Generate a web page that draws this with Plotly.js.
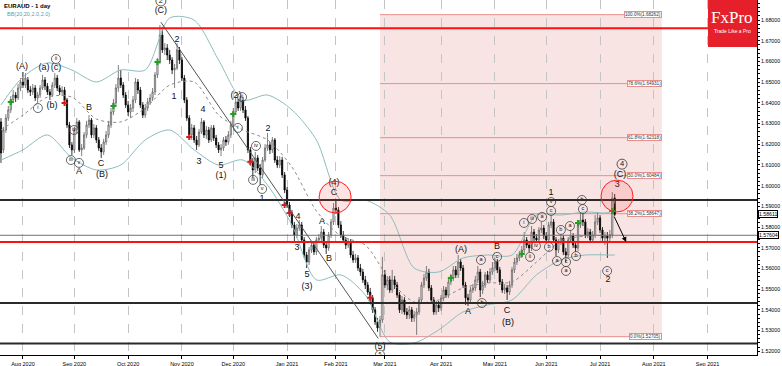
<!DOCTYPE html>
<html><head><meta charset="utf-8">
<script src="https://cdn.plot.ly/plotly-3.0.1.min.js"></script>
<style>html,body{margin:0;padding:0;background:#fff}#chart{width:782px;height:366px}</style>
</head><body><div id="chart"></div>
<script>
// ---- data (bar index 0 = 3 Aug 2020, trading days) ----
const FIRST_BAR = -9;
const OPEN=[1.6308,1.6173,1.6269,1.6327,1.6366,1.6414,1.6438,1.6424,1.6472,
1.6501,1.6486,1.6511,1.6462,1.6453,1.6472,1.6424,1.6438,1.6472,1.6511,
1.6481,1.6453,1.6438,1.6486,1.6520,1.6472,1.6453,1.6462,1.6414,1.6293,
1.6197,1.6173,1.6269,1.6308,1.6173,1.6182,1.6245,1.6293,1.6317,1.6245,
1.6279,1.6221,1.6182,1.6163,1.6211,1.6245,1.6293,1.6356,1.6399,1.6472,
1.6520,1.6486,1.6438,1.6390,1.6356,1.6375,1.6414,1.6501,1.6462,1.6390,
1.6341,1.6375,1.6404,1.6424,1.6453,1.6535,1.6597,1.6728,1.6656,1.6665,
1.6631,1.6607,1.6559,1.6568,1.6656,1.6607,1.6520,1.6414,1.6327,1.6245,
1.6279,1.6221,1.6197,1.6259,1.6308,1.6245,1.6269,1.6221,1.6279,1.6230,
1.6197,1.6173,1.6182,1.6221,1.6211,1.6245,1.6293,1.6356,1.6404,1.6375,
1.6414,1.6366,1.6327,1.6173,1.6115,1.6076,1.6134,1.6085,1.6052,1.6124,
1.6182,1.6197,1.6173,1.6221,1.6124,1.6100,1.6124,1.6052,1.5979,1.5907,
1.5868,1.5810,1.5762,1.5795,1.5810,1.5738,1.5665,1.5631,1.5690,1.5713,
1.5680,1.5738,1.5747,1.5776,1.5713,1.5699,1.5762,1.5825,1.5892,1.5883,
1.5810,1.5762,1.5738,1.5713,1.5728,1.5665,1.5641,1.5651,1.5602,1.5583,
1.5545,1.5520,1.5486,1.5458,1.5400,1.5342,1.5313,1.5351,1.5569,1.5520,
1.5545,1.5496,1.5545,1.5520,1.5472,1.5400,1.5448,1.5390,1.5376,1.5400,
1.5361,1.5376,1.5390,1.5448,1.5520,1.5554,1.5583,1.5506,1.5448,1.5390,
1.5424,1.5409,1.5458,1.5496,1.5472,1.5535,1.5554,1.5593,1.5569,1.5631,
1.5602,1.5520,1.5458,1.5448,1.5496,1.5506,1.5545,1.5583,1.5496,1.5520,
1.5569,1.5545,1.5583,1.5602,1.5631,1.5593,1.5535,1.5496,1.5506,1.5486,
1.5520,1.5593,1.5631,1.5651,1.5665,1.5690,1.5738,1.5713,1.5699,1.5776,
1.5747,1.5738,1.5786,1.5795,1.5757,1.5738,1.5810,1.5825,1.5738,1.5690,
1.5728,1.5747,1.5680,1.5665,1.5738,1.5757,1.5713,1.5699,1.5810,1.5834,
1.5825,1.5762,1.5776,1.5738,1.5762,1.5825,1.5844,1.5786,1.5747,1.5757,
1.5747,1.5762,1.5940];
const HIGH=[1.6327,1.6284,1.6346,1.6385,1.6433,1.6462,1.6453,1.6491,1.6520,
1.6549,1.6544,1.6525,1.6481,1.6491,1.6486,1.6453,1.6486,1.6535,1.6525,
1.6496,1.6467,1.6501,1.6544,1.6535,1.6486,1.6481,1.6477,1.6424,1.6308,
1.6211,1.6284,1.6327,1.6317,1.6201,1.6259,1.6313,1.6341,1.6327,1.6298,
1.6293,1.6235,1.6201,1.6226,1.6264,1.6313,1.6375,1.6419,1.6491,1.6583,
1.6559,1.6501,1.6453,1.6409,1.6395,1.6433,1.6520,1.6515,1.6477,1.6404,
1.6395,1.6424,1.6443,1.6472,1.6549,1.6617,1.6776,1.6767,1.6689,1.6684,
1.6656,1.6621,1.6588,1.6689,1.6670,1.6621,1.6535,1.6428,1.6341,1.6298,
1.6293,1.6240,1.6274,1.6327,1.6317,1.6288,1.6284,1.6293,1.6293,1.6245,
1.6211,1.6201,1.6235,1.6240,1.6264,1.6313,1.6375,1.6428,1.6419,1.6433,
1.6428,1.6385,1.6337,1.6187,1.6134,1.6163,1.6148,1.6105,1.6139,1.6201,
1.6255,1.6211,1.6235,1.6230,1.6143,1.6143,1.6139,1.6066,1.5993,1.5921,
1.5883,1.5825,1.5815,1.5834,1.5825,1.5752,1.5680,1.5704,1.5733,1.5728,
1.5752,1.5766,1.5805,1.5791,1.5728,1.5776,1.5839,1.5916,1.5931,1.5897,
1.5829,1.5781,1.5752,1.5747,1.5742,1.5685,1.5670,1.5665,1.5622,1.5598,
1.5564,1.5535,1.5506,1.5472,1.5414,1.5361,1.5371,1.5656,1.5593,1.5564,
1.5564,1.5593,1.5564,1.5535,1.5486,1.5467,1.5462,1.5409,1.5419,1.5414,
1.5395,1.5409,1.5462,1.5535,1.5573,1.5612,1.5598,1.5520,1.5462,1.5443,
1.5443,1.5472,1.5515,1.5511,1.5549,1.5573,1.5612,1.5612,1.5665,1.5646,
1.5617,1.5535,1.5477,1.5511,1.5525,1.5564,1.5612,1.5598,1.5540,1.5583,
1.5588,1.5602,1.5631,1.5651,1.5646,1.5607,1.5549,1.5525,1.5520,1.5540,
1.5607,1.5651,1.5670,1.5685,1.5709,1.5776,1.5752,1.5733,1.5805,1.5791,
1.5766,1.5800,1.5825,1.5810,1.5776,1.5825,1.5858,1.5839,1.5752,1.5742,
1.5766,1.5762,1.5699,1.5752,1.5786,1.5771,1.5733,1.5825,1.5873,1.5863,
1.5839,1.5795,1.5791,1.5781,1.5858,1.5873,1.5858,1.5800,1.5776,1.5776,
1.5786,1.5969,1.5960];
const LOW=[1.6110,1.6158,1.6255,1.6313,1.6351,1.6399,1.6404,1.6414,1.6457,
1.6472,1.6472,1.6448,1.6433,1.6438,1.6409,1.6399,1.6424,1.6462,1.6462,
1.6438,1.6414,1.6428,1.6472,1.6457,1.6438,1.6433,1.6395,1.6279,1.6182,
1.6148,1.6158,1.6250,1.6163,1.6143,1.6173,1.6230,1.6279,1.6230,1.6230,
1.6206,1.6168,1.6134,1.6148,1.6197,1.6230,1.6279,1.6341,1.6385,1.6453,
1.6472,1.6424,1.6375,1.6337,1.6327,1.6356,1.6399,1.6443,1.6375,1.6327,
1.6327,1.6361,1.6390,1.6409,1.6438,1.6520,1.6588,1.6641,1.6631,1.6607,
1.6588,1.6539,1.6472,1.6559,1.6588,1.6506,1.6399,1.6313,1.6230,1.6221,
1.6206,1.6173,1.6187,1.6250,1.6230,1.6226,1.6206,1.6211,1.6216,1.6182,
1.6158,1.6143,1.6168,1.6192,1.6197,1.6230,1.6279,1.6341,1.6361,1.6361,
1.6351,1.6313,1.6158,1.6095,1.6037,1.6061,1.6071,1.6003,1.6037,1.6115,
1.6168,1.6153,1.6158,1.6110,1.6085,1.6085,1.6037,1.5964,1.5892,1.5849,
1.5795,1.5728,1.5747,1.5781,1.5723,1.5651,1.5602,1.5617,1.5675,1.5665,
1.5665,1.5723,1.5733,1.5699,1.5670,1.5685,1.5747,1.5810,1.5863,1.5795,
1.5747,1.5723,1.5694,1.5699,1.5651,1.5627,1.5627,1.5588,1.5564,1.5530,
1.5501,1.5472,1.5438,1.5385,1.5327,1.5294,1.5270,1.5337,1.5506,1.5496,
1.5482,1.5482,1.5501,1.5458,1.5385,1.5380,1.5376,1.5356,1.5356,1.5342,
1.5342,1.5279,1.5376,1.5433,1.5506,1.5540,1.5491,1.5433,1.5376,1.5376,
1.5390,1.5395,1.5443,1.5458,1.5458,1.5520,1.5540,1.5554,1.5554,1.5588,
1.5506,1.5424,1.5419,1.5433,1.5482,1.5491,1.5530,1.5462,1.5477,1.5506,
1.5530,1.5530,1.5569,1.5588,1.5578,1.5520,1.5482,1.5477,1.5448,1.5472,
1.5506,1.5578,1.5617,1.5636,1.5651,1.5675,1.5699,1.5680,1.5685,1.5733,
1.5723,1.5723,1.5771,1.5742,1.5723,1.5723,1.5795,1.5723,1.5660,1.5675,
1.5713,1.5665,1.5631,1.5651,1.5723,1.5699,1.5680,1.5685,1.5795,1.5805,
1.5747,1.5747,1.5723,1.5723,1.5747,1.5810,1.5771,1.5733,1.5713,1.5651,
1.5733,1.5747,1.5853];
const CLOSE=[1.6158,1.6269,1.6327,1.6366,1.6414,1.6438,1.6424,1.6472,1.6501,
1.6486,1.6520,1.6462,1.6453,1.6472,1.6424,1.6438,1.6472,1.6511,1.6481,
1.6453,1.6438,1.6486,1.6520,1.6472,1.6453,1.6462,1.6414,1.6293,1.6197,
1.6173,1.6269,1.6308,1.6173,1.6182,1.6245,1.6293,1.6317,1.6245,1.6279,
1.6221,1.6182,1.6163,1.6211,1.6245,1.6293,1.6356,1.6399,1.6472,1.6520,
1.6486,1.6438,1.6390,1.6356,1.6375,1.6414,1.6501,1.6462,1.6390,1.6341,
1.6375,1.6404,1.6424,1.6453,1.6535,1.6597,1.6728,1.6656,1.6665,1.6631,
1.6607,1.6559,1.6568,1.6656,1.6607,1.6520,1.6414,1.6327,1.6245,1.6279,
1.6221,1.6197,1.6259,1.6308,1.6245,1.6269,1.6221,1.6279,1.6230,1.6197,
1.6173,1.6182,1.6221,1.6211,1.6245,1.6293,1.6356,1.6404,1.6375,1.6414,
1.6366,1.6327,1.6173,1.6115,1.6076,1.6134,1.6085,1.6052,1.6124,1.6182,
1.6197,1.6173,1.6221,1.6124,1.6100,1.6124,1.6052,1.5979,1.5907,1.5868,
1.5810,1.5762,1.5795,1.5810,1.5738,1.5665,1.5631,1.5690,1.5713,1.5680,
1.5738,1.5747,1.5776,1.5713,1.5699,1.5762,1.5825,1.5892,1.5883,1.5810,
1.5762,1.5738,1.5713,1.5728,1.5665,1.5641,1.5651,1.5602,1.5583,1.5545,
1.5520,1.5486,1.5458,1.5400,1.5342,1.5313,1.5351,1.5569,1.5520,1.5545,
1.5496,1.5545,1.5520,1.5472,1.5400,1.5448,1.5390,1.5376,1.5400,1.5361,
1.5376,1.5390,1.5448,1.5520,1.5554,1.5583,1.5506,1.5448,1.5390,1.5424,
1.5409,1.5458,1.5496,1.5472,1.5535,1.5554,1.5593,1.5569,1.5631,1.5602,
1.5520,1.5458,1.5448,1.5496,1.5506,1.5545,1.5583,1.5496,1.5520,1.5569,
1.5545,1.5583,1.5602,1.5631,1.5593,1.5535,1.5496,1.5506,1.5486,1.5520,
1.5593,1.5631,1.5651,1.5665,1.5690,1.5738,1.5713,1.5699,1.5776,1.5747,
1.5738,1.5786,1.5795,1.5757,1.5738,1.5810,1.5825,1.5738,1.5690,1.5728,
1.5747,1.5680,1.5665,1.5738,1.5757,1.5713,1.5699,1.5810,1.5834,1.5825,
1.5762,1.5776,1.5738,1.5762,1.5825,1.5844,1.5786,1.5747,1.5757,1.5747,
1.5762,1.5940,1.5861];

// Bollinger band (20, 2.0) at sample bars
const bbIdx  =[-9,0,10,20,30,40,50,60,70,80,90,100,110,120,130,140,150,160,170,180,190,200,210,220,230,240,242];
const bbUpper=[1.6390,1.6525,1.6593,1.6559,1.6501,1.6559,1.6559,1.6810,1.6800,1.6607,1.6414,1.6438,1.6366,1.6221,1.5931,1.5931,1.5858,1.5602,1.5583,1.5651,1.5665,1.5665,1.5858,1.5858,1.5873,1.5873,1.5931];
const bbMid  =[1.6269,1.6341,1.6428,1.6428,1.6322,1.6308,1.6375,1.6486,1.6501,1.6341,1.6269,1.6221,1.6090,1.5878,1.5757,1.5713,1.5545,1.5438,1.5448,1.5506,1.5530,1.5535,1.5631,1.5733,1.5757,1.5762,1.5771];
const bbLower=[1.6124,1.6173,1.6245,1.6134,1.6076,1.6100,1.6221,1.6269,1.6173,1.6100,1.6124,1.6003,1.5810,1.5545,1.5569,1.5472,1.5245,1.5240,1.5303,1.5390,1.5424,1.5448,1.5569,1.5641,1.5665,1.5665,1.5665];

const greenIdx=[-5,37,55,86,175,204,227,241];
const greenVal=[1.6404,1.6385,1.6597,1.6346,1.5554,1.5670,1.5820,1.5878];
const redIdx=[17,68,93,107,109,142];
const redVal=[1.6399,1.6235,1.6115,1.5907,1.5868,1.5458];

const monthTicks=[0,21,43,65,86,108,128,148,171,193,214,236,258,280];
const monthLabels=['Aug 2020','Sep 2020','Oct 2020','Nov 2020','Dec 2020','Jan 2021','Feb 2021','Mar 2021','Apr 2021','May 2021','Jun 2021','Jul 2021','Aug 2021','Sep 2021'];
const priceTicks=[1.52,1.53,1.54,1.55,1.56,1.57,1.58,1.59,1.60,1.61,1.62,1.63,1.64,1.65,1.66,1.67,1.68];

const fibPct=['0.0','38.2','50.0','61.8','78.6','100.0'];
const fibLevels=[1.52705,1.58647,1.60484,1.62318,1.64931,1.68262];
const fibFrom=146, fibTo=261.3;

const redLevels=[1.6761,1.5728];
const blackLevels=[1.5931,1.5433,1.5237];
const greyLevels=[1.57604];
const currentPrice=1.58611;

const waveText=['(C)','(A)','(a)','(c)','(b)','A','B','C','(B)','2','1','4','3','5','(1)','(2)','1','2','4','3','5','(3)','A','B','(4)','C','(5)','(A)','A','B','C','(B)','1','2','(C)','3'];
const waveX=[56.4,-0.4,8.6,13.5,11.9,22.9,27.0,31.9,32.3,63.0,61.8,73.6,72.0,81.0,81.0,87.1,97.8,100.2,112.5,112.1,116.2,116.2,122.3,125.2,127.2,127.2,146.0,179.1,182.0,193.9,198.0,198.4,216.0,239.3,244.2,243.0];
const waveY=[1.6844,1.6573,1.6568,1.6568,1.6385,1.6066,1.6375,1.6105,1.6052,1.6704,1.6428,1.6366,1.6115,1.6095,1.6047,1.6433,1.5935,1.6274,1.5849,1.5699,1.5569,1.5511,1.5825,1.5646,1.6013,1.5964,1.5221,1.5690,1.5390,1.5704,1.5395,1.5337,1.5964,1.5545,1.6052,1.6006];

const circText=['ii','i','iv','iii','v','ii','i','iv','iii','v','a','b','c','i','ii','iii','iv','a','b','v','c','a','b','c','a','a','b','b','c','c','5'];
const circX=[13.5,6.1,20.9,19.6,22.9,89.6,87.9,95.3,94.1,97.8,187.3,187.7,193.9,204.9,207.4,208.2,209.8,212.3,215.1,216.0,216.0,218.4,220.0,222.1,222.1,223.7,226.2,228.6,229.0,238.9,146.0];
const circY=[1.6612,1.6375,1.6269,1.6124,1.6110,1.6428,1.6279,1.6192,1.6028,1.5984,1.5641,1.5433,1.5656,1.5820,1.5656,1.5839,1.5709,1.5849,1.5704,1.5921,1.5878,1.5636,1.5786,1.5631,1.5588,1.5805,1.5660,1.5931,1.5887,1.5588,1.5184];
const bigText=['2','4'];
const bigX=[56.4,245.0];
const bigY=[1.6892,1.6104];

// ---- build ----
const bars=OPEN.map((_,k)=>k+FIRST_BAR);
const FONT='Liberation Sans, Arial, sans-serif';
const traces=[
 {type:'candlestick',x:bars,open:OPEN,high:HIGH,low:LOW,close:CLOSE,
  increasing:{line:{color:'#606060',width:0.8},fillcolor:'#ffffff'},
  decreasing:{line:{color:'#000000',width:0.8},fillcolor:'#000000'},
  whiskerwidth:0,hoverinfo:'skip'},
 {type:'scatter',mode:'lines',x:bbIdx,y:bbUpper,line:{color:'#8dbdbd',width:1,shape:'spline',smoothing:0.8}},
 {type:'scatter',mode:'lines',x:bbIdx,y:bbLower,line:{color:'#8dbdbd',width:1,shape:'spline',smoothing:0.8}},
 {type:'scatter',mode:'lines',x:bbIdx,y:bbMid,line:{color:'#8a8a8a',width:1,dash:'dot',shape:'spline',smoothing:0.8}},
 {type:'scatter',mode:'markers',x:greenIdx,y:greenVal,marker:{symbol:'cross',size:5,color:'#1fa01f'}},
 {type:'scatter',mode:'markers',x:redIdx,y:redVal,marker:{symbol:'cross',size:5,color:'#d01f1f'}},
 {type:'scatter',mode:'text',x:waveX,y:waveY,text:waveText,textfont:{family:FONT,size:9,color:'#111'},cliponaxis:false},
 {type:'scatter',mode:'markers+text',x:circX,y:circY,text:circText,textposition:'middle center',
  marker:{symbol:'circle-open',size:9,color:'#444',line:{width:0.8}},textfont:{family:FONT,size:5.5,color:'#111'},cliponaxis:true},
 {type:'scatter',mode:'markers+text',x:bigX,y:bigY,text:bigText,textposition:'middle center',
  marker:{symbol:'circle-open',size:10,color:'#333',line:{width:0.8}},textfont:{family:FONT,size:7.5,color:'#111'},cliponaxis:true}
];

const shapes=[];
shapes.push({type:'rect',xref:'x',yref:'y',x0:fibFrom,x1:fibTo,y0:fibLevels[0],y1:fibLevels[fibLevels.length-1],fillcolor:'rgba(235,170,170,0.32)',line:{width:0},layer:'below'});
fibLevels.forEach(v=>shapes.push({type:'line',xref:'x',yref:'y',x0:fibFrom,x1:fibTo,y0:v,y1:v,line:{color:'#e98c8c',width:1},layer:'below'}));
redLevels.forEach(v=>shapes.push({type:'line',xref:'paper',yref:'y',x0:0,x1:1,y0:v,y1:v,line:{color:'#ff1010',width:2}}));
blackLevels.forEach(v=>shapes.push({type:'line',xref:'paper',yref:'y',x0:0,x1:1,y0:v,y1:v,line:{color:'#2a2a2a',width:2}}));
greyLevels.forEach(v=>shapes.push({type:'line',xref:'paper',yref:'y',x0:0,x1:1,y0:v,y1:v,line:{color:'#707070',width:1}}));
shapes.push({type:'line',xref:'x',yref:'y',x0:56.4,y0:1.6790,x1:145.3,y1:1.5262,line:{color:'#555',width:1}});
shapes.push({type:'circle',xref:'x',yref:'y',x0:121.1,x1:134.2,y0:1.5868,y1:1.6022,line:{color:'#ff2020',width:1},fillcolor:'rgba(255,60,60,0.15)'});
shapes.push({type:'circle',xref:'x',yref:'y',x0:236.4,x1:249.5,y0:1.5873,y1:1.6027,line:{color:'#ff2020',width:1},fillcolor:'rgba(255,60,60,0.15)'});
shapes.push({type:'rect',xref:'paper',yref:'paper',x0:0.9353,x1:1,y0:0.8676,y1:1,fillcolor:'#e5202a',line:{width:0}});

const annotations=[];
fibLevels.forEach((v,k)=>annotations.push({xref:'x',yref:'y',x:fibTo,y:v,xanchor:'right',yanchor:'middle',
 text:fibPct[k]+'%('+v.toFixed(5)+')',showarrow:false,font:{family:FONT,size:4.6,color:'#333'},
 bgcolor:'#ffffff',bordercolor:'#e98c8c',borderwidth:1,borderpad:0}));
annotations.push({xref:'paper',yref:'y',x:1,y:currentPrice,xanchor:'left',xshift:1,text:currentPrice.toFixed(5),showarrow:false,
 font:{family:FONT,size:5.2,color:'#000'},bgcolor:'#fff',bordercolor:'#000',borderwidth:1,borderpad:0});
annotations.push({xref:'paper',yref:'y',x:1,y:greyLevels[0],xanchor:'left',xshift:1,text:greyLevels[0].toFixed(5),showarrow:false,
 font:{family:FONT,size:5.2,color:'#000'},bgcolor:'#fff',bordercolor:'#000',borderwidth:1,borderpad:0});
annotations.push({xref:'x',yref:'y',x:246.7,y:1.5728,axref:'x',ayref:'y',ax:241.5,ay:1.5858,showarrow:true,arrowhead:2,arrowsize:1,arrowwidth:1,arrowcolor:'#000',text:''});
annotations.push({xref:'paper',yref:'paper',x:0.002,y:1,xanchor:'left',yanchor:'top',yshift:-1,showarrow:false,text:'<b>EURAUD - 1 day</b>',font:{family:FONT,size:6,color:'#000'}});
annotations.push({xref:'paper',yref:'paper',x:0.006,y:1,xanchor:'left',yanchor:'top',yshift:-9,showarrow:false,text:'BB(20,20,2.0,2.0)',font:{family:FONT,size:5.5,color:'#5aa0a8'}});
annotations.push({xref:'paper',yref:'paper',x:0.967,y:0.952,xanchor:'center',yanchor:'middle',showarrow:false,text:'FxPro',font:{family:'Liberation Serif, DejaVu Serif, serif',size:17,color:'#fff'}});
annotations.push({xref:'paper',yref:'paper',x:0.967,y:0.912,xanchor:'center',yanchor:'middle',showarrow:false,text:'Trade Like a Pro',font:{family:FONT,size:5,color:'#fff'}});

const layout={
 width:782,height:366,margin:{l:0,r:25,t:0,b:11},
 paper_bgcolor:'#fff',plot_bgcolor:'#fff',showlegend:false,hovermode:false,
 font:{family:FONT,color:'#000'},
 xaxis:{range:[-9.4,300.2],tickmode:'array',tickvals:monthTicks,ticktext:monthLabels,
  showgrid:true,gridcolor:'#c4c4c4',griddash:'dash',gridwidth:1,zeroline:false,
  showline:true,linecolor:'#000',linewidth:1,ticks:'outside',ticklen:3,tickcolor:'#000',
  tickfont:{size:5.5,family:FONT},rangeslider:{visible:false},fixedrange:true},
 yaxis:{side:'right',range:[1.5182,1.6897],tickmode:'array',tickvals:priceTicks,ticktext:priceTicks.map(v=>v.toFixed(5)),
  showgrid:false,zeroline:false,showline:true,linecolor:'#000',linewidth:1,ticks:'outside',ticklen:2,tickcolor:'#000',
  tickfont:{size:5.3,family:FONT},fixedrange:true,
  minor:{ticks:'outside',ticklen:1.5,tickcolor:'#000',tick0:1.52,dtick:0.002,showgrid:false}},
 shapes:shapes,annotations:annotations
};
Plotly.newPlot('chart',traces,layout,{staticPlot:true,displayModeBar:false});
</script></body></html>
